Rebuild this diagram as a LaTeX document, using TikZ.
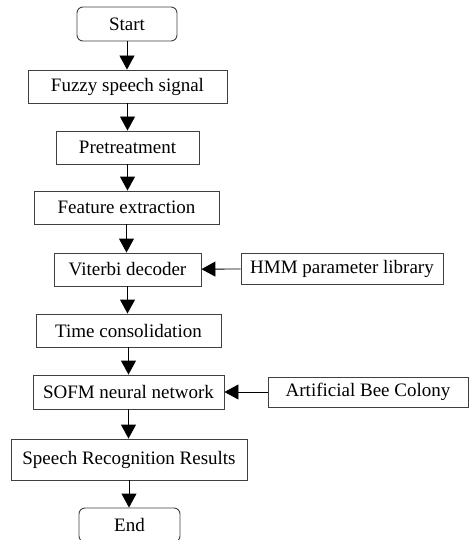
\documentclass[tikz,border=0pt]{standalone}
\usepackage{fontspec}
\setmainfont{Liberation Serif}
\usepackage{tikz}
\usetikzlibrary{arrows.meta}
\tikzset{%
  tipA/.tip={Triangle[width=15pt,length=14pt]},
  box/.style={draw=black!75, line width=0.9pt, inner sep=0pt,
    font=\fontsize{19}{22}\selectfont},
  term/.style={box, rounded corners=6pt},
  flow/.style={black, line width=0.9pt, -tipA}
}
\begin{document}
\begin{tikzpicture}[x=1pt,y=-1pt]
\useasboundingbox (0,0) rectangle (469,540);
% main column
\node[term, minimum width=100pt, minimum height=34pt] (start) at (127,24) {Start};
\node[box, minimum width=199pt, minimum height=33pt] (fuzzy) at (127.5,86.5) {Fuzzy speech signal};
\node[box, minimum width=143pt, minimum height=33pt] (pre) at (127.5,147.5) {Pretreatment};
\node[box, minimum width=185pt, minimum height=33pt] (feat) at (126.5,207.5) {Feature extraction};
\node[box, minimum width=147pt, minimum height=33pt] (viterbi) at (127.5,269.5) {Viterbi decoder};
\node[box, minimum width=185pt, minimum height=33pt] (time) at (128.5,330.5) {Time consolidation};
\node[box, minimum width=191pt, minimum height=34pt] (sofm) at (128.5,392) {SOFM neural network};
\node[box, minimum width=236pt, minimum height=41pt] (result) at (129,459.5) {Speech Recognition Results};
\node[term, minimum width=101pt, minimum height=34pt] (end) at (129.5,525) {End};
% side inputs
\node[box, minimum width=202pt, minimum height=31pt] (hmm) at (342,268.5) {HMM parameter library};
\node[box, minimum width=200pt, minimum height=30pt] (abc) at (368,392) {Artificial Bee Colony};
% arrows
\draw[flow] (start) -- (start |- fuzzy.north);
\draw[flow] (fuzzy) -- (fuzzy |- pre.north);
\draw[flow] (pre) -- (pre |- feat.north);
\draw[flow] (feat) -- (feat |- viterbi.north);
\draw[flow] (viterbi) -- (viterbi |- time.north);
\draw[flow] (time) -- (time |- sofm.north);
\draw[flow] (sofm) -- (sofm |- result.north);
\draw[flow] (result) -- (result |- end.north);
\draw[flow] (hmm) -- (viterbi);
\draw[flow] (abc) -- (sofm);
\end{tikzpicture}
\end{document}
